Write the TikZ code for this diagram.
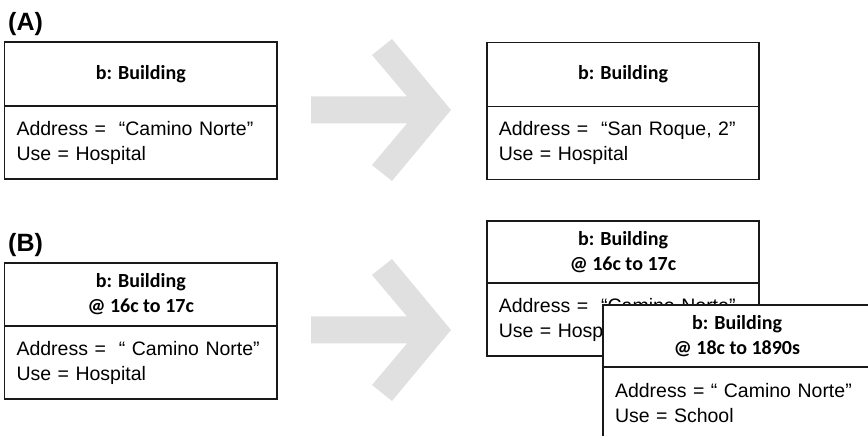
\documentclass[tikz,border=0pt]{standalone}
\usepackage{fontspec}
\setmainfont{Liberation Sans}
\newfontfamily\headfont{Carlito}
\usetikzlibrary{positioning}
\definecolor{arrowgray}{RGB}{224,224,224}
\definecolor{boxline}{RGB}{25,25,25}

\begin{document}
\begin{tikzpicture}[x=1pt, y=1pt,
    objhead/.style={draw=boxline, fill=white, line width=1.6pt, outer sep=0pt,
        inner sep=0pt, minimum width=272.5pt, align=center,
        font=\headfont\bfseries\fontsize{20}{25}\selectfont},
    objbody/.style={draw=boxline, fill=white, line width=1.6pt, outer sep=0pt,
        inner xsep=12pt, inner ysep=0pt, text width=248.5pt, minimum height=73pt,
        align=left, font=\fontsize{19.5}{25}\selectfont},
    panel/.style={font=\bfseries\fontsize{25}{30}\selectfont, anchor=base west, inner sep=0pt}]
    \useasboundingbox (0,0) rectangle (868,436);
    \clip (0,0) rectangle (868,436);

    % Panel labels
    \node[panel] (labA) at (8,405) {(A)};
    \node[panel] (labB) at (8,184) {(B)};

    % Big gray arrows
    \foreach \tip in {326,106} {
        \begin{scope}[shift={(451,\tip)}]
            \fill[arrowgray] (-140,13.5) -- (-44,13.5) -- (-79,55) -- (-59,71) -- (0,0)
                -- (-59,-71) -- (-79,-55) -- (-44,-13.5) -- (-140,-13.5) -- cycle;
        \end{scope}
    }

    % (A) before
    \node[objhead, minimum height=64pt] (a1head) at (140.75,362) {b: Building};
    \node[objbody, below=0pt of a1head] (a1body)
        {Address =\ \ “Camino Norte”\\Use = Hospital};

    % (A) after
    \node[objhead, minimum height=64pt] (a2head) at (623,361.5) {b: Building};
    \node[objbody, below=0pt of a2head] (a2body)
        {Address =\ \ “San Roque, 2”\\Use = Hospital};

    % (B) before
    \node[objhead, minimum height=63pt] (b1head) at (140.75,141.5) {b: Building\\@ 16c to 17c};
    \node[objbody, below=0pt of b1head] (b1body)
        {Address =\ \ “ Camino Norte”\\Use = Hospital};

    % (B) after: two versions, the later one in front
    \node[objhead, minimum height=62pt] (b2head) at (623,184) {b: Building\\@ 16c to 17c};
    \node[objbody, below=0pt of b2head] (b2body)
        {Address =\ \ “Camino Norte”\\Use = Hospital};

    \node[objhead, minimum width=268pt, minimum height=62pt] (b3head) at (737,100)
        {b: Building\\@ 18c to 1890s};
    \node[objbody, text width=244pt, below=0pt of b3head] (b3body)
        {Address = “ Camino Norte”\\Use = School};
\end{tikzpicture}
\end{document}
